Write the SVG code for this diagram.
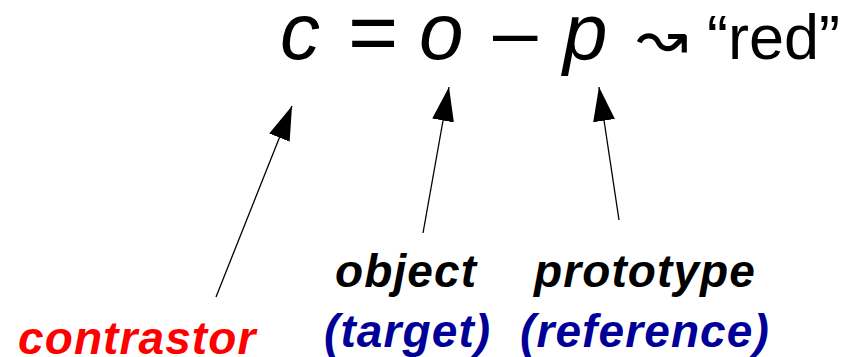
<svg xmlns="http://www.w3.org/2000/svg" width="846" height="357" viewBox="0 0 846 357">
<style>
.math{font-family:"Liberation Sans",Arial,sans-serif;font-style:italic;font-size:80px;fill:#000}
.up{font-family:"Liberation Sans",Arial,sans-serif;font-size:80px;fill:#000}
.q{font-family:"Liberation Sans",Arial,sans-serif;font-size:63px;fill:#000}
.lbl{font-family:"Liberation Sans",Arial,sans-serif;font-style:italic;font-weight:bold;font-size:46px;letter-spacing:1.1px}
.conn{stroke:#000;stroke-width:1.3;fill:none;marker-end:url(#ah)}
</style>
<defs>
<marker id="ah" markerUnits="userSpaceOnUse" markerWidth="36" markerHeight="24" refX="34" refY="11" orient="auto">
<path d="M0,0 L34,11 L0,22 z" fill="#000"/>
</marker>
</defs>
<g id="formula">
<text class="math" x="280" y="59">c</text>
<text class="up" x="348" y="61" style="font-size:86px">=</text>
<text class="math" x="419" y="59">o</text>
<text class="up" x="493" y="59">–</text>
<text class="math" x="563" y="59">p</text>
<text x="636" y="59" style="font-family:'DejaVu Sans',sans-serif;font-size:62px">↝</text>
<text class="q" x="707" y="59">“red”</text>
</g>
<g id="contrastor"><text class="lbl" x="18" y="354" fill="#ff0000">contrastor</text></g>
<g id="object">
<text class="lbl" x="335" y="287" fill="#000">object</text>
<text class="lbl" x="324" y="347" fill="#000099">(target)</text>
</g>
<g id="prototype">
<text class="lbl" x="534" y="287" fill="#000">prototype</text>
<text class="lbl" x="520" y="347" fill="#000099">(reference)</text>
</g>
<g id="connectors">
<line class="conn" x1="216" y1="297" x2="292" y2="106"/>
<line class="conn" x1="423" y1="233" x2="449" y2="87"/>
<line class="conn" x1="619" y1="220" x2="599" y2="87"/>
</g>
</svg>
